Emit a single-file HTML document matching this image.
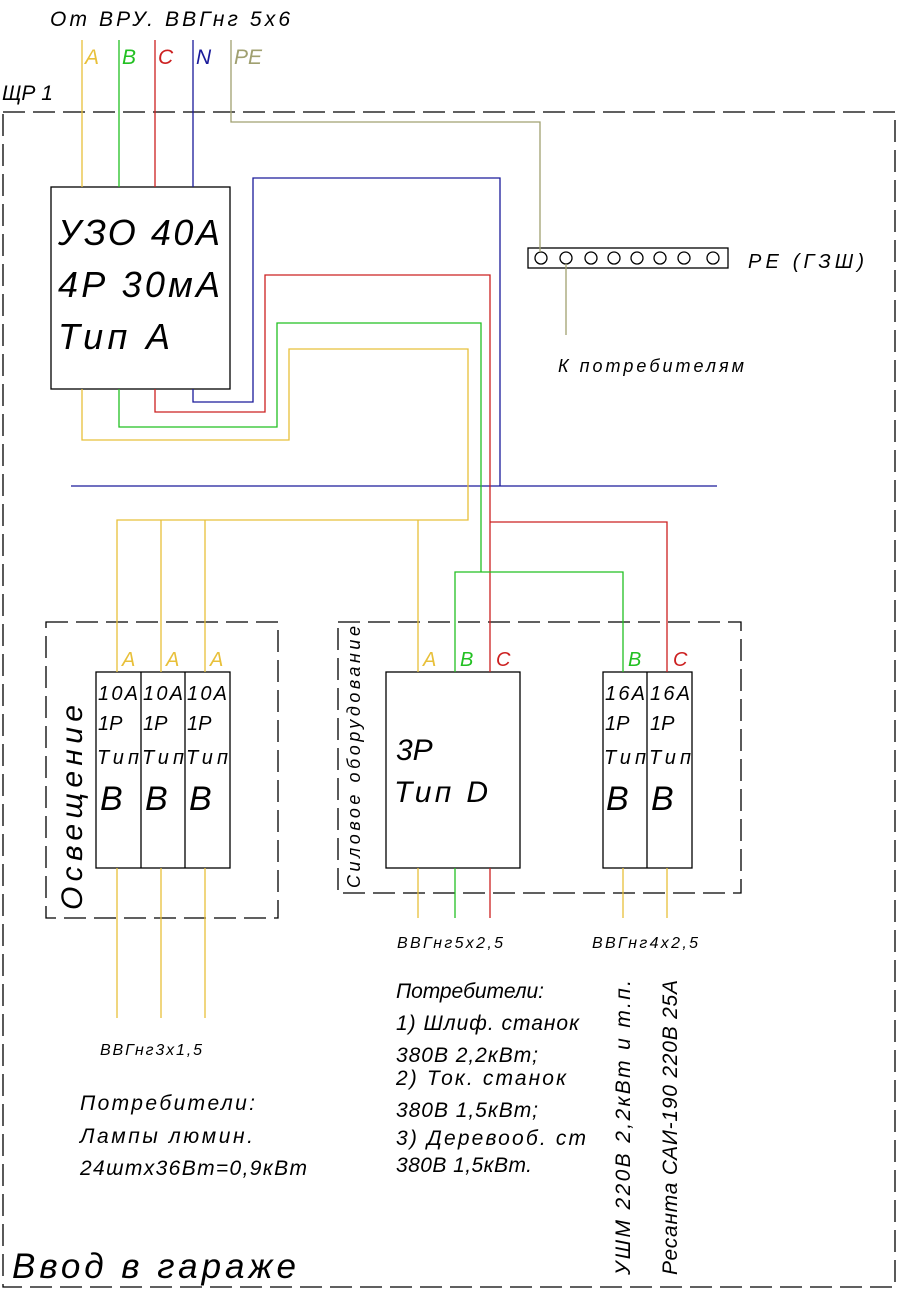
<!DOCTYPE html>
<html><head><meta charset="utf-8"><style>
html,body{margin:0;padding:0;background:#fff}
svg{display:block}
text{font-family:"Liberation Sans","DejaVu Sans",sans-serif;font-style:italic;fill:#000}
</style></head><body>
<svg width="898" height="1291" viewBox="0 0 898 1291" xmlns="http://www.w3.org/2000/svg">
<g fill="none" stroke-width="1.3">
<!-- outer dashed frame -->
<rect x="3" y="112" width="892" height="1175" stroke="#000" stroke-dasharray="22,8"/>
<rect x="46" y="622" width="232" height="296" stroke="#000" stroke-dasharray="22,8"/>
<rect x="338" y="622" width="403" height="271" stroke="#000" stroke-dasharray="22,8"/>
<!-- boxes -->
<rect x="51" y="187" width="179" height="202" stroke="#000"/>
<rect x="96" y="672" width="134" height="196" stroke="#000"/>
<line x1="141" y1="672" x2="141" y2="868" stroke="#000"/>
<line x1="185" y1="672" x2="185" y2="868" stroke="#000"/>
<rect x="386" y="672" width="134" height="196" stroke="#000"/>
<rect x="603" y="672" width="89" height="196" stroke="#000"/>
<line x1="647" y1="672" x2="647" y2="868" stroke="#000"/>
<!-- PE bus -->
<rect x="528" y="248" width="200" height="20" stroke="#000"/>
<g stroke="#000"><circle cx="541" cy="258" r="6"/><circle cx="566" cy="258" r="6"/><circle cx="591" cy="258" r="6"/><circle cx="614" cy="258" r="6"/><circle cx="637" cy="258" r="6"/><circle cx="660" cy="258" r="6"/><circle cx="684" cy="258" r="6"/><circle cx="713" cy="258" r="6"/></g>
<!-- incoming -->
<line x1="82" y1="40" x2="82" y2="187" stroke="#e8c03a"/>
<line x1="119" y1="40" x2="119" y2="187" stroke="#22c022"/>
<line x1="155" y1="40" x2="155" y2="187" stroke="#cc2020"/>
<line x1="193" y1="40" x2="193" y2="187" stroke="#1a1a9a"/>
<polyline points="231,40 231,122 540,122 540,252" stroke="#a0a070"/>
<line x1="566" y1="264" x2="566" y2="335" stroke="#a0a070"/>
<!-- blue N -->
<polyline points="193,389 193,402 253,402 253,178 500,178 500,486" stroke="#1a1a9a"/>
<line x1="71" y1="486" x2="717" y2="486" stroke="#1a1a9a"/>
<!-- red C -->
<polyline points="155,389 155,412 265,412 265,275 490,275 490,672" stroke="#cc2020"/>
<polyline points="490,522 667,522 667,672" stroke="#cc2020"/>
<!-- green B -->
<polyline points="119,389 119,427 277,427 277,323 481,323 481,572" stroke="#22c022"/>
<polyline points="455,672 455,572 623,572 623,672" stroke="#22c022"/>
<!-- yellow A -->
<polyline points="82,389 82,440 289,440 289,349 468,349 468,520 117,520 117,672" stroke="#e8c03a"/>
<line x1="161" y1="520" x2="161" y2="672" stroke="#e8c03a"/>
<line x1="205" y1="520" x2="205" y2="672" stroke="#e8c03a"/>
<line x1="418" y1="520" x2="418" y2="672" stroke="#e8c03a"/>
<!-- outputs -->
<line x1="117" y1="868" x2="117" y2="1018" stroke="#e8c03a"/>
<line x1="161" y1="868" x2="161" y2="1018" stroke="#e8c03a"/>
<line x1="205" y1="868" x2="205" y2="1018" stroke="#e8c03a"/>
<line x1="418" y1="868" x2="418" y2="918" stroke="#e8c03a"/>
<line x1="455" y1="868" x2="455" y2="918" stroke="#22c022"/>
<line x1="490" y1="868" x2="490" y2="918" stroke="#cc2020"/>
<line x1="623" y1="868" x2="623" y2="918" stroke="#e8c03a"/>
<line x1="667" y1="868" x2="667" y2="918" stroke="#e8c03a"/>
</g>
<!-- texts -->
<text x="50" y="26" font-size="21" textLength="240">От ВРУ. ВВГнг 5х6</text>
<text x="2" y="100" font-size="21">ЩР 1</text>
<text x="85" y="64" font-size="21" style="fill:#e8c03a">A</text>
<text x="122" y="64" font-size="21" style="fill:#22c022">B</text>
<text x="158" y="64" font-size="21" style="fill:#cc2020">C</text>
<text x="196" y="64" font-size="21" style="fill:#1a1a9a">N</text>
<text x="234" y="64" font-size="21" style="fill:#a0a070">PE</text>
<text x="58" y="245" font-size="36" textLength="162">УЗО 40А</text>
<text x="58" y="297" font-size="36" textLength="162">4Р 30мА</text>
<text x="58" y="349" font-size="36" textLength="112">Тип А</text>
<text x="748" y="268" font-size="20" textLength="116">PE (ГЗШ)</text>
<text x="558" y="372" font-size="18" textLength="186">К потребителям</text>
<!-- phase labels -->
<text x="122" y="666" font-size="20" style="fill:#e8c03a">A</text>
<text x="166" y="666" font-size="20" style="fill:#e8c03a">A</text>
<text x="210" y="666" font-size="20" style="fill:#e8c03a">A</text>
<text x="423" y="666" font-size="20" style="fill:#e8c03a">A</text>
<text x="460" y="666" font-size="20" style="fill:#22c022">B</text>
<text x="496" y="666" font-size="20" style="fill:#cc2020">C</text>
<text x="628" y="666" font-size="20" style="fill:#22c022">B</text>
<text x="673" y="666" font-size="20" style="fill:#cc2020">C</text>
<!-- breakers text -->
<g font-size="20">
<text x="98" y="700" textLength="40">10A</text><text x="98" y="730">1P</text><text x="97" y="764" textLength="42">Тип</text>
<text x="143" y="700" textLength="40">10A</text><text x="143" y="730">1P</text><text x="142" y="764" textLength="42">Тип</text>
<text x="187" y="700" textLength="40">10A</text><text x="187" y="730">1P</text><text x="186" y="764" textLength="42">Тип</text>
<text x="605" y="700" textLength="40">16A</text><text x="605" y="730">1P</text><text x="604" y="764" textLength="42">Тип</text>
<text x="650" y="700" textLength="40">16A</text><text x="650" y="730">1P</text><text x="649" y="764" textLength="42">Тип</text>
</g>
<g font-size="34">
<text x="100" y="810">B</text><text x="145" y="810">B</text><text x="189" y="810">B</text>
<text x="606" y="810">B</text><text x="651" y="810">B</text>
</g>
<text x="396" y="760" font-size="30">3P</text>
<text x="394" y="802" font-size="30" textLength="94">Тип  D</text>
<text transform="translate(82,910) rotate(-90)" font-size="30" textLength="205">Освещение</text>
<text transform="translate(360,888) rotate(-90)" font-size="18" textLength="262">Силовое оборудование</text>
<text x="397" y="948" font-size="16" textLength="106">ВВГнг5х2,5</text>
<text x="592" y="948" font-size="16" textLength="106">ВВГнг4х2,5</text>
<text x="100" y="1055" font-size="16" textLength="102">ВВГнг3х1,5</text>
<g font-size="21">
<text x="80" y="1110" textLength="175">Потребители:</text>
<text x="80" y="1143" textLength="173">Лампы люмин.</text>
<text x="80" y="1175" textLength="227">24штх36Вт=0,9кВт</text>
<text x="396" y="998" textLength="148">Потребители:</text>
<text x="396" y="1030" textLength="183">1) Шлиф. станок</text>
<text x="396" y="1062" textLength="142">380В 2,2кВт;</text>
<text x="396" y="1085" textLength="170">2) Ток. станок</text>
<text x="396" y="1117" textLength="142">380В 1,5кВт;</text>
<text x="396" y="1145" textLength="190">3) Деревооб. ст</text>
<text x="396" y="1172" textLength="136">380В 1,5кВт.</text>
</g>
<text transform="translate(630,1275) rotate(-90)" font-size="21" textLength="295">УШМ 220В 2,2кВт и т.п.</text>
<text transform="translate(677,1275) rotate(-90)" font-size="21" textLength="295">Ресанта САИ-190 220В 25А</text>
<text x="12" y="1278" font-size="35" textLength="284">Ввод в гараже</text>
</svg>
</body></html>
